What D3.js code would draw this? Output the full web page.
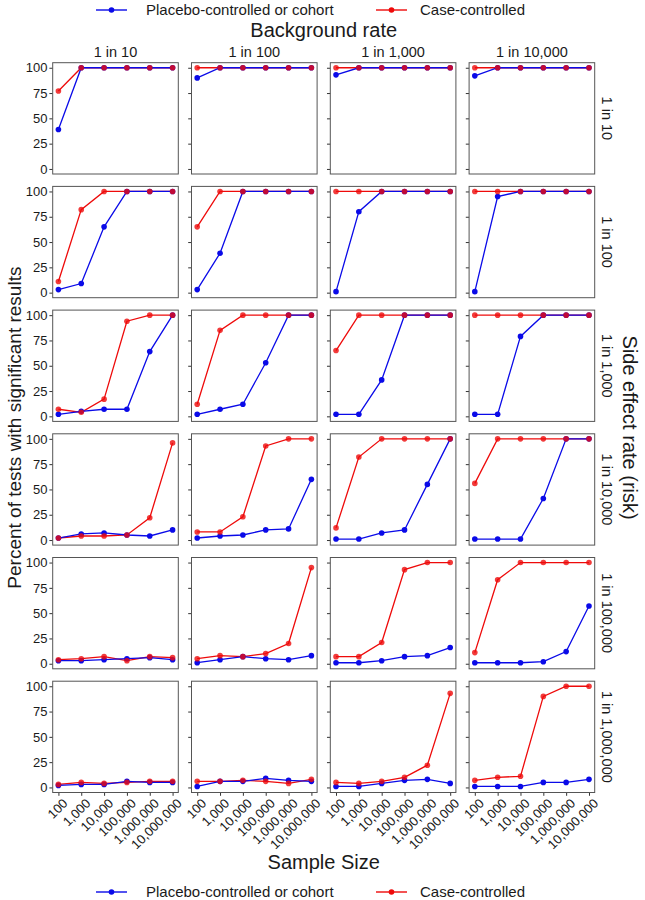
<!DOCTYPE html>
<html>
<head>
<meta charset="utf-8">
<script src="https://cdn.jsdelivr.net/npm/d3@7"></script>
<style>
  body { margin: 0; background: #fff; }
  text { font-family: "Liberation Sans", Arial, sans-serif; fill: #1a1a1a; }
</style>
</head>
<body>
<svg id="chart"></svg>
<script>
// Data
const sampleSizes = [100, 1000, 10000, 100000, 1000000, 10000000];
const sampleLabels = ["100", "1,000", "10,000", "100,000", "1,000,000", "10,000,000"];
const backgroundRates = ["1 in 10", "1 in 100", "1 in 1,000", "1 in 10,000"];
const sideEffectRates = ["1 in 10", "1 in 100", "1 in 1,000", "1 in 10,000", "1 in 100,000", "1 in 1,000,000"];
const yTicks = [0, 25, 50, 75, 100];

// rows = side effect rate, columns = background rate
const placeboCohort = [
    [[39, 100, 100, 100, 100, 100], [90, 100, 100, 100, 100, 100], [93, 100, 100, 100, 100, 100], [92, 100, 100, 100, 100, 100]],
    [[3, 9, 65, 100, 100, 100], [3, 39, 100, 100, 100, 100], [1, 80, 100, 100, 100, 100], [1, 95, 100, 100, 100, 100]],
    [[2, 5, 7, 7, 64, 100], [2, 7, 12, 53, 100, 100], [2, 2, 36, 100, 100, 100], [2, 2, 79, 100, 100, 100]],
    [[2, 6, 7, 5, 4, 10], [2, 4, 5, 10, 11, 60], [1, 1, 7, 10, 55, 100], [1, 1, 1, 41, 100, 100]],
    [[3, 3, 4, 5, 6, 4], [1, 4, 7, 5, 4, 8], [1, 1, 3, 7, 8, 16], [1, 1, 1, 2, 12, 57]],
    [[2, 3, 3, 6, 5, 5], [1, 6, 6, 9, 7, 6], [1, 1, 4, 7, 8, 4], [1, 1, 1, 5, 5, 8]]
];
const caseControlled = [
    [[77, 100, 100, 100, 100, 100], [100, 100, 100, 100, 100, 100], [100, 100, 100, 100, 100, 100], [100, 100, 100, 100, 100, 100]],
    [[11, 82, 100, 100, 100, 100], [65, 100, 100, 100, 100, 100], [100, 100, 100, 100, 100, 100], [100, 100, 100, 100, 100, 100]],
    [[7, 4, 17, 94, 100, 100], [12, 85, 100, 100, 100, 100], [65, 100, 100, 100, 100, 100], [100, 100, 100, 100, 100, 100]],
    [[2, 4, 4, 5, 22, 96], [8, 8, 23, 93, 100, 100], [12, 82, 100, 100, 100, 100], [56, 100, 100, 100, 100, 100]],
    [[4, 5, 7, 3, 7, 6], [5, 8, 7, 10, 20, 95], [7, 7, 21, 93, 100, 100], [11, 83, 100, 100, 100, 100]],
    [[3, 5, 4, 5, 6, 6], [6, 6, 7, 6, 4, 8], [5, 4, 6, 10, 22, 93], [7, 10, 11, 90, 100, 100]]
];

const seriesNames = ["Placebo-controlled or cohort", "Case-controlled"];
const blue = "#0a0ae8";
const red = "#ee0a0a";

// Layout
const width = 645;
const height = 900;
const left0 = 52.7;
const top0 = 62.7;
const panelW = 125.6;
const panelH = 111.3;
const colStep = 138.8;
const rowStep = 123.7;
const gridRight = left0 + 3 * colStep + panelW;
const gridBottom = top0 + 5 * rowStep + panelH;
const gridCx = (left0 + gridRight) / 2;

const svg = d3.select("#chart")
    .attr("width", width)
    .attr("height", height);

// scales (log x with 5% padding, like ggplot)
const xScale = d3.scaleLog()
    .domain([100 / Math.pow(10, 0.25), 10000000 * Math.pow(10, 0.25)])
    .range([0, panelW]);

const yScale = d3.scaleLinear()
    .domain([-5, 105])
    .range([panelH, 0]);

const line = d3.line()
    .x((d, i) => xScale(sampleSizes[i]))
    .y(d => yScale(d));

sideEffectRates.forEach((rowLabel, r) => {
    backgroundRates.forEach((colLabel, c) => {
        const g = svg.append("g")
            .attr("transform", `translate(${left0 + c * colStep}, ${top0 + r * rowStep})`);

        // y axis ticks (labels only on first column)
        const yAxis = d3.axisLeft(yScale)
            .tickValues(yTicks)
            .tickSize(3.3)
            .tickPadding(2)
            .tickFormat(c === 0 ? d3.format("d") : "");
        const ya = g.append("g").call(yAxis);
        ya.select(".domain").remove();
        ya.selectAll("line").attr("stroke", "#333");
        ya.selectAll("text")
            .style("font-size", "13px")
            .style("font-family", "Liberation Sans, Arial, sans-serif")
            .attr("fill", "#1a1a1a");

        // x axis only on bottom row
        if (r === sideEffectRates.length - 1) {
            const xAxis = d3.axisBottom(xScale)
                .tickValues(sampleSizes)
                .tickSize(3.3)
                .tickFormat("");
            const xa = g.append("g")
                .attr("transform", `translate(0, ${panelH})`)
                .call(xAxis);
            xa.select(".domain").remove();
            xa.selectAll("line").attr("stroke", "#333");

            g.selectAll(".xlab")
                .data(sampleLabels)
                .enter()
                .append("text")
                .attr("class", "xlab")
                .attr("transform", (d, i) => `translate(${xScale(sampleSizes[i]) + 3.5}, ${panelH + 5}) rotate(-45)`)
                .attr("text-anchor", "end")
                .attr("dy", "0.71em")
                .style("font-size", "13px")
                .text(d => d);
        }

        // lines
        g.append("path")
            .datum(caseControlled[r][c])
            .attr("d", line)
            .attr("fill", "none")
            .attr("stroke", red)
            .attr("stroke-width", 1.3);

        g.append("path")
            .datum(placeboCohort[r][c])
            .attr("d", line)
            .attr("fill", "none")
            .attr("stroke", blue)
            .attr("stroke-width", 1.3);

        // points
        g.selectAll(".pb")
            .data(placeboCohort[r][c])
            .enter()
            .append("circle")
            .attr("cx", (d, i) => xScale(sampleSizes[i]))
            .attr("cy", d => yScale(d))
            .attr("r", 2.8)
            .attr("fill", blue);

        g.selectAll(".pr")
            .data(caseControlled[r][c])
            .enter()
            .append("circle")
            .attr("cx", (d, i) => xScale(sampleSizes[i]))
            .attr("cy", d => yScale(d))
            .attr("r", 2.8)
            .attr("fill", red)
            .attr("fill-opacity", 0.8);

        // panel border
        g.append("rect")
            .attr("width", panelW)
            .attr("height", panelH)
            .attr("fill", "none")
            .attr("stroke", "#555")
            .attr("stroke-width", 1);

        // column strip labels
        if (r === 0) {
            g.append("text")
                .attr("x", panelW / 2)
                .attr("y", -10.5)
                .attr("dy", "0.35em")
                .attr("text-anchor", "middle")
                .style("font-size", "14.5px")
                .text(colLabel);
        }

        // row strip labels
        if (c === backgroundRates.length - 1) {
            g.append("text")
                .attr("transform", `translate(${panelW + 12}, ${panelH / 2}) rotate(90)`)
                .attr("dy", "0.35em")
                .attr("text-anchor", "middle")
                .style("font-size", "14.5px")
                .text(rowLabel);
        }
    });
});

// Axis titles
svg.append("text")
    .attr("x", gridCx)
    .attr("y", 30)
    .attr("dy", "0.35em")
    .attr("text-anchor", "middle")
    .style("font-size", "20px")
    .text("Background rate");

svg.append("text")
    .attr("x", gridCx)
    .attr("y", 862)
    .attr("dy", "0.35em")
    .attr("text-anchor", "middle")
    .style("font-size", "20px")
    .text("Sample Size");

svg.append("text")
    .attr("transform", `translate(14, ${(top0 + gridBottom) / 2}) rotate(-90)`)
    .attr("dy", "0.35em")
    .attr("text-anchor", "middle")
    .style("font-size", "19px")
    .text("Percent of tests with significant results");

svg.append("text")
    .attr("transform", `translate(630, ${(top0 + gridBottom) / 2}) rotate(90)`)
    .attr("dy", "0.35em")
    .attr("text-anchor", "middle")
    .style("font-size", "20px")
    .text("Side effect rate (risk)");

// Legends (top and bottom)
const legendColors = [blue, red];
const legendX = [96, 376];
[10, 892].forEach(ly => {
    const legend = svg.selectAll(null)
        .data(seriesNames)
        .enter()
        .append("g")
        .attr("transform", (d, i) => `translate(${legendX[i]}, ${ly})`);

    legend.append("line")
        .attr("x1", 0)
        .attr("x2", 31)
        .attr("stroke", (d, i) => legendColors[i])
        .attr("stroke-width", 1.4);

    legend.append("circle")
        .attr("cx", 15.5)
        .attr("r", 2.8)
        .attr("fill", (d, i) => legendColors[i]);

    legend.append("text")
        .attr("x", (d, i) => i === 0 ? 50 : 44)
        .attr("dy", "0.35em")
        .style("font-size", "15px")
        .text(d => d);
});
</script>
</body>
</html>
